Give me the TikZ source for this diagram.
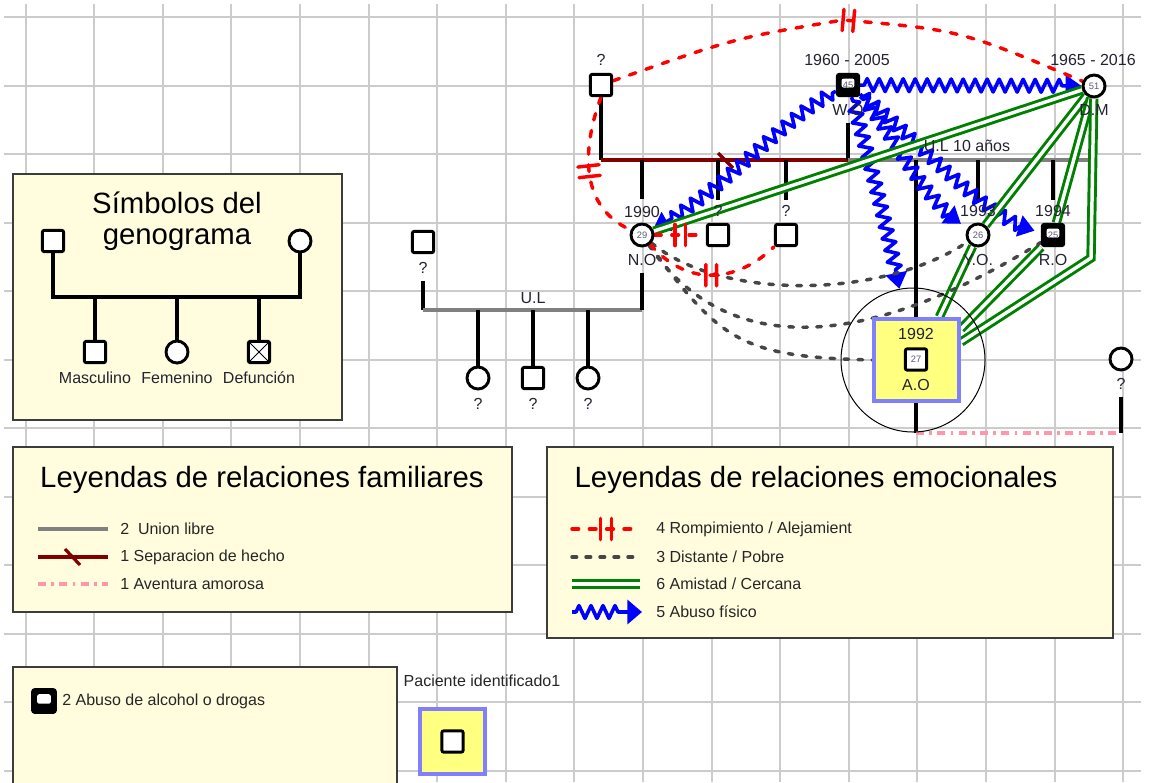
\documentclass[tikz,border=0pt]{standalone}
\usepackage{fontspec}
\setmainfont{Liberation Sans}
\usepackage{tikz}
\usetikzlibrary{arrows.meta,calc,decorations.pathmorphing,decorations.markings}

\definecolor{gridgray}{RGB}{204,204,204}
\definecolor{boxyellow}{RGB}{255,253,222}
\definecolor{boxborder}{RGB}{60,60,60}
\definecolor{piyellow}{RGB}{255,255,128}
\definecolor{piblue}{RGB}{128,128,255}
\definecolor{uniongray}{RGB}{128,128,128}
\definecolor{sepred}{RGB}{128,0,0}
\definecolor{affairpink}{RGB}{255,150,170}
\definecolor{breakred}{RGB}{255,0,0}
\definecolor{distgray}{RGB}{70,70,70}
\definecolor{friendgreen}{RGB}{0,128,0}
\definecolor{abuseblue}{RGB}{0,0,255}
\definecolor{labeltext}{RGB}{35,35,50}
\definecolor{agetext}{RGB}{90,90,120}

\pgfdeclarelayer{gridlayer}
\pgfdeclarelayer{linelayer}
\pgfsetlayers{gridlayer,linelayer,main}

\newcommand{\titlefont}{\fontsize{22}{23.3}\selectfont}
\newcommand{\labelfont}{\fontsize{12}{14}\selectfont}
\newcommand{\agefont}{\fontsize{7}{8}\selectfont}

\tikzset{
  gridline/.style={draw=gridgray, line width=1.5pt},
  legbox/.style={draw=boxborder, fill=boxyellow, line width=0.9pt},
  person/.style={draw=black, fill=white, line width=2.2pt, inner sep=0pt, font=\agefont, text=agetext},
  male/.style={person, rectangle, rounded corners=1.5pt, minimum size=16pt},
  female/.style={person, circle, minimum size=16.5pt},
  drugmale/.style={male, path picture={
    \fill[black] (path picture bounding box.south west) rectangle (path picture bounding box.north east);
    \coordinate (dwa) at ($(path picture bounding box.north west)!0.2!(path picture bounding box.south east)$);
    \coordinate (dwb) at ($(path picture bounding box.north east)!0.62!(path picture bounding box.south east)$);
    \coordinate (dwc) at ($(path picture bounding box.north east)!0.2!(path picture bounding box.north west)$);
    \fill[white] (dwa) rectangle (dwc |- dwb);}},
  deadmale/.style={male, path picture={\draw[line width=0.6pt] (path picture bounding box.south west) -- (path picture bounding box.north east) (path picture bounding box.north west) -- (path picture bounding box.south east);}},
  lbl/.style={font=\labelfont, text=labeltext, inner sep=0pt},
  titletext/.style={font=\titlefont, text=black, align=center, inner sep=0pt},
  legtext/.style={font=\labelfont, text=black!85, anchor=west, inner sep=0pt},
  gen/.style={draw=black, line width=2.3pt},
  union/.style={draw=uniongray, line width=3pt},
  sep/.style={draw=sepred, line width=3pt},
  affair/.style={draw=affairpink, line width=2.4pt, dash pattern=on 6pt off 4pt on 2pt off 4pt},
  breakup/.style={draw=breakred, line width=2.6pt, line cap=round, dash pattern=on 5pt off 8pt,
    postaction={decorate}, decoration={markings, mark=at position 0.5 with {\draw[breakred, solid, line width=2.6pt] (-4pt,-8pt) -- (-4pt,8pt) (4pt,-8pt) -- (4pt,8pt);}}},
  distant/.style={draw=distgray, line width=2.6pt, line cap=round, dash pattern=on 3.5pt off 7pt},
  amistad/.style={draw=friendgreen, line width=2.2pt, double=white, double distance=2.6pt},
  abuse/.style={draw=abuseblue, line width=2.7pt, line join=round, decorate,
    decoration={zigzag, amplitude=4.8pt, segment length=9pt, pre length=3pt, post length=14pt},
    -{Triangle[length=12pt, width=16pt]}},
  pibox/.style={draw=piblue, fill=piyellow, line width=3pt, inner sep=0pt},
  ring/.style={draw=black, circle, line width=0.75pt, minimum size=108pt, inner sep=0pt},
}

\begin{document}
\begin{tikzpicture}[x=0.75pt,y=0.75pt,yscale=-1,xscale=1]
\useasboundingbox (0,0) rectangle (1149,782);

%Grid and legend boxes
\begin{pgfonlayer}{gridlayer}
\fill[white] (0,0) rectangle (1149,782);
\foreach \gx in {0,...,16} \draw[gridline] (25.5+68.6*\gx,4) -- (25.5+68.6*\gx,782);
\foreach \gy in {0,...,11} \draw[gridline] (4,17.3+68.5*\gy) -- (1141,17.3+68.5*\gy);
\draw[legbox] (13,174) rectangle (342,420);
\draw[legbox] (13,447) rectangle (512,612);
\draw[legbox] (547,447) rectangle (1113,638);
\draw[legbox] (13,667) rectangle (397,795);
\end{pgfonlayer}

% Text Node
\node[titletext] (symtitle) at (177,221) {Símbolos del\\genograma};
% Text Node
\node[titletext] (famtitle) at (262,480) {Leyendas de relaciones familiares};
% Text Node
\node[titletext] (emotitle) at (816,480) {Leyendas de relaciones emocionales};

%Symbols legend
\node[male] (symm) at (53,241) {};
\node[female] (symf) at (300,241) {};
\node[male] (symc1) at (95,352) {};
\node[female] (symc2) at (177,352) {};
\node[deadmale] (symc3) at (259,352) {};
\coordinate (symbar) at (177,297);
\node[lbl] (symt1) at (95,378) {Masculino};
\node[lbl] (symt2) at (177,378) {Femenino};
\node[lbl] (symt3) at (259,378) {Defunción};
\begin{pgfonlayer}{linelayer}
\draw[gen] (symm.south) |- (symbar) -| (symf.south);
\draw[gen] (symc1.north) |- (symbar);
\draw[gen] (symc2.north) -- (symbar);
\draw[gen] (symc3.north) |- (symbar);
\end{pgfonlayer}

%Family legend
\coordinate (fa1) at (38,529); \coordinate (fb1) at (108,529);
\coordinate (fa2) at (38,557); \coordinate (fb2) at (108,557);
\coordinate (fa3) at (38,584); \coordinate (fb3) at (108,584);
\draw[union] (fa1) -- (fb1);
\draw[sep] (fa2) -- (fb2);
\draw[sep, line width=2.4pt] (65,549) -- (80,565);
\draw[affair] (fa3) -- (fb3);
\node[legtext] (ft1) at (120,529) {2\ \ Union libre};
\node[legtext] (ft2) at (120,557) {1 Separacion de hecho};
\node[legtext] (ft3) at (120,584) {1 Aventura amorosa};

%Emotional legend
\coordinate (ea1) at (572,529); \coordinate (eb1) at (640,529);
\coordinate (ea2) at (572,557); \coordinate (eb2) at (640,557);
\coordinate (ea3) at (572,584); \coordinate (eb3) at (640,584);
\coordinate (ea4) at (572,612); \coordinate (eb4) at (642,612);
\draw[breakup] (ea1) -- (eb1);
\draw[distant] (ea2) -- (eb2);
\draw[amistad] (ea3) -- (eb3);
\draw[abuse, -{Triangle[length=11pt, width=18pt]}] (ea4) -- (eb4);
\node[legtext] (et1) at (656,529) {4 Rompimiento / Alejamient};
\node[legtext] (et2) at (656,557) {3 Distante / Pobre};
\node[legtext] (et3) at (656,584) {6 Amistad / Cercana};
\node[legtext] (et4) at (656,612) {5 Abuso físico};

%Drug legend and identified patient
\node[drugmale, minimum size=17pt] (drugicon) at (44,701) {};
\node[legtext] (drugtext) at (62,701) {2 Abuso de alcohol o drogas};
\node[lbl, text=black!85] (pitext) at (482,681) {Paciente identificado1};
\node[pibox, minimum size=48.75pt] (pibox) at (452.5,741.5) {};
\node[male] (pimale) at (452.5,741.5) {};

%Grandparents generation
\node[male] (gp) at (601,85) {};
\node[lbl] (gpq) at (601,60) {?};
\node[drugmale] (wo) at (848,85) {45};
\node[lbl] (woyear) at (847,60) {1960 - 2005};
\node[lbl] (wolbl) at (848,110) {W.O};
\node[female] (dm) at (1094,86) {51};
\node[lbl] (dmyear) at (1093,60) {1965 - 2016};
\node[lbl] (dmlbl) at (1094,110) {D.M};
\node[lbl] (ulright) at (967,146) {U.L 10 años};

%Children
\node[female] (no) at (642,235) {29};
\node[lbl] (noyear) at (642,212) {1990};
\node[lbl] (nolbl) at (642,260) {N.O};
\node[male] (sa) at (718,235) {};
\node[lbl] (saq) at (718,211) {?};
\node[male] (sb) at (786,235) {};
\node[lbl] (sbq) at (786,211) {?};
\node[female] (yo) at (978,235) {26};
\node[lbl] (yoyear) at (978,211) {1993};
\node[lbl] (yolbl) at (978,260) {Y.O.};
\node[drugmale] (ro) at (1053,235) {25};
\node[lbl] (royear) at (1053,211) {1994};
\node[lbl] (rolbl) at (1053,260) {R.O};

%Identified patient A.O
\node[pibox, minimum width=63.75pt, minimum height=61.5pt] (aobox) at (916.5,360) {};
\node[ring] (aoring) at (913,360) {};
\node[male] (ao) at (916,359.5) {27};
\node[lbl] (aoyear) at (916,334) {1992};
\node[lbl] (aolbl) at (916,385) {A.O};
\node[female] (rf) at (1121,359) {};
\node[lbl] (rfq) at (1121,384) {?};

%Left family
\node[male] (lf) at (423,242) {};
\node[lbl] (lfq) at (423,268) {?};
\node[lbl] (ulleft) at (533,298) {U.L};
\node[female] (ca) at (478,378) {};
\node[male] (cb) at (533,378) {};
\node[female] (cc) at (588,378) {};
\node[lbl] (caq) at (478,404) {?};
\node[lbl] (cbq) at (533,404) {?};
\node[lbl] (ccq) at (588,404) {?};

\coordinate (gpbar) at (601,160);
\coordinate (wobar) at (848,160);
\coordinate (dmbar) at (1095,160);
\coordinate (lfbar) at (423,310);
\coordinate (nobar) at (642,310);
\coordinate (aoend) at (916,433);
\coordinate (rfend) at (1121,433);
\coordinate (dmbend) at (1091,258);
\coordinate (breaktop) at (843,20);

\begin{pgfonlayer}{linelayer}
%Family lines
\draw[gen] (gp.south) -- (gpbar);
\draw[sep] (gpbar) -- (wobar);
\draw[sep, line width=2.4pt] (718,153) -- (733,168);
\draw[gen, shorten <=5pt] (wolbl.south) -- (wobar);
\draw[union] (wobar) -- (dmbar);
\draw[gen, shorten <=5pt] (dmlbl.south) -- (dmbar);
\draw[gen, shorten >=5pt] (no |- gpbar) -- (noyear.north);
\draw[gen, shorten >=4pt] (sa |- gpbar) -- (saq.north);
\draw[gen, shorten >=4pt] (sb |- gpbar) -- (sbq.north);
\draw[gen, shorten >=4pt] (yo |- wobar) -- (yoyear.north);
\draw[gen, shorten >=4pt] (ro |- wobar) -- (royear.north);
\draw[gen] (ao |- wobar) -- (aoend);
\draw[affair] (aoend) -- (rfend);
\draw[gen, shorten <=5pt] (rfq.south) -- (rfend);
\draw[gen, shorten <=5pt] (lfq.south) -- (lfbar);
\draw[union] (lfbar) -- (nobar);
\draw[gen, shorten <=5pt] (nolbl.south) -- (nobar);
\draw[gen] (ca.north) -- (ca |- lfbar);
\draw[gen] (cb.north) -- (cb |- lfbar);
\draw[gen] (cc.north) -- (cc |- lfbar);

%Abuso fisico
\draw[abuse] (wo) -- (dm);
\draw[abuse] (wo) .. controls (780,120) and (720,195) .. (no);
\draw[abuse] (wo) .. controls (870,160) and (890,240) .. (aoring);
\draw[abuse, shorten >=6pt] (wo) .. controls (890,125) and (920,200) .. (yo);
\draw[abuse, shorten >=5pt] (wo) .. controls (920,140) and (985,222) .. (ro);

%Amistad
\draw[amistad] (no) -- (dm);
\draw[amistad] (dm) -- (yo);
\draw[amistad] (yo) -- (aobox.62);
\draw[amistad] (dm) -- (ro);
\draw[amistad] (ro) -- (aobox.35);
\draw[amistad] (dm) -- (dmbend) -- (aobox.22);

%Distante
\draw[distant] (no) .. controls (720,300) and (880,300) .. (yo);
\draw[distant] (no) .. controls (720,350) and (850,360) .. (ro);
\draw[distant] (no) .. controls (720,340) and (740,357) .. (aobox.west);

%Rompimiento
\draw[breakup] (gp) .. controls (735,38) .. (breaktop) .. controls (960,30) .. (dm);
\draw[breakup] (gp.south) .. controls (585,140) and (575,205) .. (no);
\draw[breakup] (no) -- (sa);
\draw[breakup] (no) .. controls (690,290) and (740,280) .. (sb);
\end{pgfonlayer}

\end{tikzpicture}
\end{document}
